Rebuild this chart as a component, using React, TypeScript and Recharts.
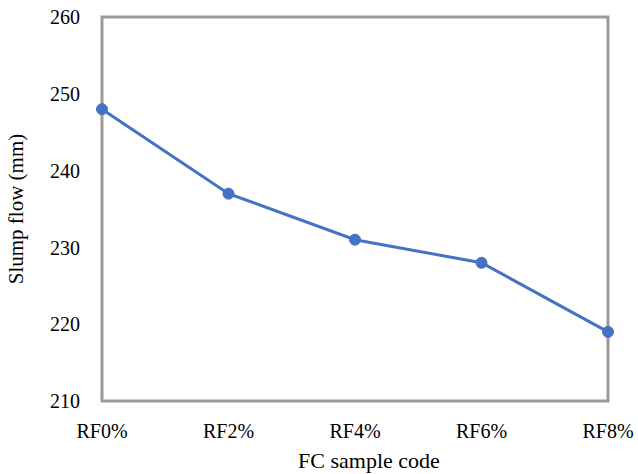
import { LineChart, Line, XAxis, YAxis, ReferenceArea, Label } from 'recharts';

const categories = ['RF0%', 'RF2%', 'RF4%', 'RF6%', 'RF8%'];
const slumpFlow = [248, 237, 231, 228, 219];
const yTicks = [210, 220, 230, 240, 250, 260];

const data = categories.map((code, i) => ({ code, flow: slumpFlow[i] }));

const FONT = 'Liberation Serif';
const tickStyle = { fontSize: 20, fill: '#000', fontFamily: FONT };
const labelStyle = { fontSize: 21, fill: '#000', fontFamily: FONT };

export default function App() {
  return (
    <div style={{ position: 'absolute', left: 0, top: 0, background: '#fff', fontFamily: FONT }}>
      <LineChart
        width={638}
        height={474}
        data={data}
        margin={{ top: 17, right: 30, left: 0, bottom: 0 }}
      >
        <XAxis
          dataKey="code"
          axisLine={false}
          tickLine={false}
          tickSize={0}
          tickMargin={23}
          height={73}
          tick={tickStyle}
        >
          <Label
            value="FC sample code"
            position="insideBottom"
            offset={6}
            dx={14}
            style={{ ...labelStyle, fontSize: 22 }}
          />
        </XAxis>
        <YAxis
          domain={[210, 260]}
          ticks={yTicks}
          axisLine={false}
          tickLine={false}
          tickSize={0}
          tickMargin={22}
          width={102}
          tick={tickStyle}
        >
          <Label
            value="Slump flow (mm)"
            angle={-90}
            position="insideLeft"
            offset={16}
            style={{ ...labelStyle, textAnchor: 'middle' }}
          />
        </YAxis>
        <ReferenceArea
          x1="RF0%"
          x2="RF8%"
          y1={210}
          y2={260}
          fill="none"
          stroke="#9a9a9a"
          strokeWidth={3}
          fillOpacity={0}
        />
        <Line
          dataKey="flow"
          stroke="#4472C4"
          strokeWidth={3}
          dot={{ r: 5.5, fill: '#4472C4', stroke: '#4472C4', strokeWidth: 1 }}
          isAnimationActive={false}
        />
      </LineChart>
    </div>
  );
}
